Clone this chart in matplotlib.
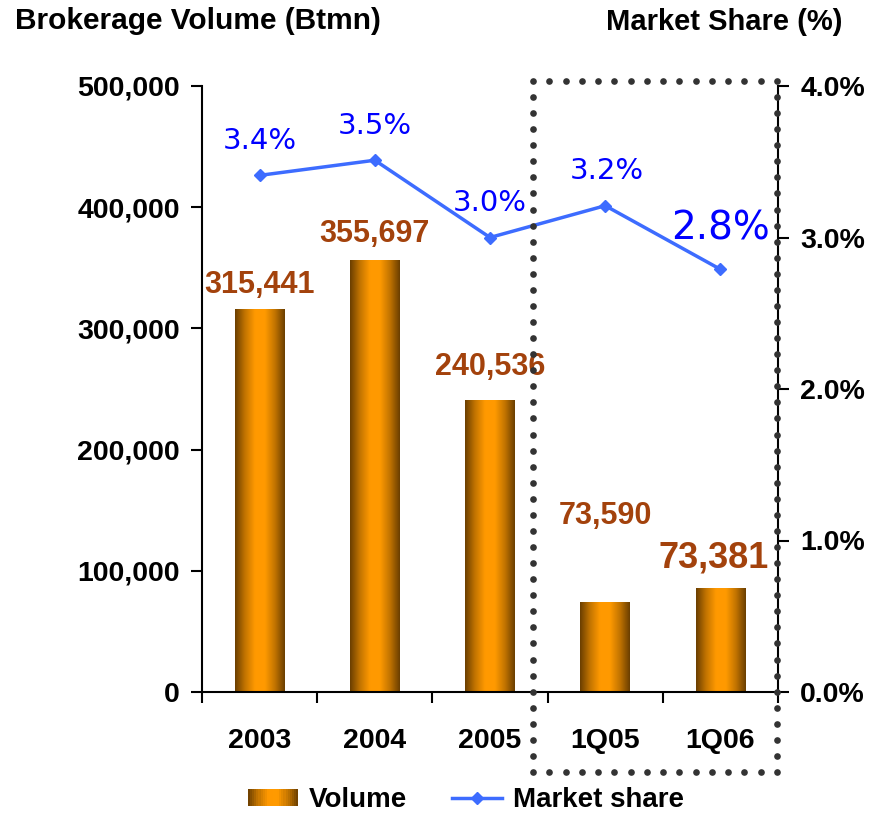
import numpy as np
import matplotlib
matplotlib.use("Agg")
import matplotlib.pyplot as plt
from matplotlib.colors import LinearSegmentedColormap
from matplotlib.patches import Rectangle
from matplotlib.lines import Line2D
from matplotlib.legend_handler import HandlerBase
from matplotlib.ticker import FuncFormatter

# data
periods = ["2003", "2004", "2005", "1Q05", "1Q06"]
volume = [315441, 355697, 240536, 73590, 85800]
volume_labels = ["315,441", "355,697", "240,536", "73,590", "73,381"]
share = [3.41, 3.51, 3.00, 3.21, 2.79]
share_labels = ["3.4%", "3.5%", "3.0%", "3.2%", "2.8%"]

# label styling (offsets in points from the mark to the label centre, font sizes)
vol_offsets = [(0, 18), (0, 19.5), (0, 24), (0, 62.5), (-5, 21.5)]
vol_sizes = [22, 22, 22, 22, 26]
share_offsets = [(0, 25), (0, 25), (0, 25), (1, 25), (0, 29.5)]
share_sizes = [21, 21, 21, 21, 28]

BOLD = "Liberation Sans"
BROWN = "#A3420C"
BLUE = "#0000FF"
LINE = "#3D6CFF"

bar_cmap = LinearSegmentedColormap.from_list(
    "barg", ["#6A3E00", "#C27400", "#FF9900", "#FF9A00", "#C27400", "#6A3E00"])


class GradientHandler(HandlerBase):
    def create_artists(self, legend, orig_handle, xdescent, ydescent,
                       width, height, fontsize, trans):
        n = 24
        out = []
        for i in range(n):
            r = Rectangle((-xdescent + width * i / n, -ydescent), width / n + 0.3, height,
                          facecolor=bar_cmap((i + 0.5) / n), edgecolor="none",
                          transform=trans)
            out.append(r)
        return out


W, H = 883, 815
fig = plt.figure(figsize=(W / 100, H / 100), dpi=100)
ax_left, ax_bot, ax_w, ax_h = 202, 692, 576, 606   # pixels
ax = fig.add_axes([ax_left / W, 1 - ax_bot / H, ax_w / W, ax_h / H])
ax2 = ax.twinx()

x = np.arange(len(periods))
bars = ax.bar(x, volume, width=0.43, facecolor="none", edgecolor="none")
grad = np.linspace(0, 1, 256).reshape(1, -1)
for b in bars:
    x0, w, h = b.get_x(), b.get_width(), b.get_height()
    ax.imshow(grad, cmap=bar_cmap, extent=(x0, x0 + w, 0, h), aspect="auto",
              interpolation="bilinear", zorder=2)

for i, b in enumerate(bars):
    ax.annotate(volume_labels[i], (b.get_x() + b.get_width() / 2, b.get_height()),
                xytext=vol_offsets[i], textcoords="offset points",
                ha="center", va="center", color=BROWN, fontsize=vol_sizes[i],
                fontweight="bold", family=BOLD)

ax.set_xlim(-0.5, len(periods) - 0.5)
ax.set_ylim(0, 500000)
ax.set_yticks(np.arange(0, 500001, 100000))
ax.yaxis.set_major_formatter(FuncFormatter(lambda v, p: f"{int(v):,}"))
ax.set_xticks(np.arange(-0.5, len(periods), 1.0))
ax.set_xticklabels([])
ax.set_xticks(x, minor=True)
ax.set_xticklabels(periods, minor=True)
ax.tick_params(axis="x", which="major", direction="out", length=8, width=1.5)
ax.tick_params(axis="x", which="minor", length=0, pad=26)
ax.tick_params(axis="y", direction="out", length=8, width=1.5, pad=8)
for lab in ax.get_xticklabels(minor=True) + ax.get_yticklabels():
    lab.set_fontsize(20.5)
    lab.set_fontweight("bold")
    lab.set_family(BOLD)
for s in ["top", "right"]:
    ax.spines[s].set_visible(False)
ax.spines["left"].set_linewidth(1.5)
ax.spines["bottom"].set_linewidth(1.5)

ax2.plot(x, share, color=LINE, lw=2.5, marker="D", markersize=6, zorder=4)
for i in range(len(periods)):
    ax2.annotate(share_labels[i], (x[i], share[i]), xytext=share_offsets[i],
                 textcoords="offset points", ha="center", va="center",
                 color=BLUE, fontsize=share_sizes[i], family="DejaVu Sans")
ax2.set_ylim(0, 4)
ax2.set_yticks(np.arange(0, 4.01, 1.0))
ax2.yaxis.set_major_formatter(FuncFormatter(lambda v, p: f"{v:.1f}%"))
ax2.tick_params(axis="y", direction="out", length=8, width=1.5, pad=8)
for lab in ax2.get_yticklabels():
    lab.set_fontsize(20.5)
    lab.set_fontweight("bold")
    lab.set_family(BOLD)
for s in ["top", "left", "bottom"]:
    ax2.spines[s].set_visible(False)
ax2.spines["right"].set_linewidth(1.5)

# dotted frame around the quarterly comparison, drawn as round dots (pixel coords)
fx0, fx1, fy0, fy1 = 533, 777, 81, 772
step = 16.0
pts = []
for (a, b) in [((fx0, fy0), (fx1, fy0)), ((fx1, fy0), (fx1, fy1)),
               ((fx1, fy1), (fx0, fy1)), ((fx0, fy1), (fx0, fy0))]:
    length = np.hypot(b[0] - a[0], b[1] - a[1])
    n = max(int(round(length / step)), 1)
    for t in np.arange(n) / n:
        pts.append((a[0] + (b[0] - a[0]) * t, a[1] + (b[1] - a[1]) * t))
pts = np.array(pts)
fig.add_artist(Line2D(pts[:, 0] / W, 1 - pts[:, 1] / H, transform=fig.transFigure,
                      linestyle="none", marker="o", markersize=4.8,
                      markerfacecolor="#333333", markeredgecolor="none", zorder=6))

fig.text(15 / W, 1 - 21 / H, "Brokerage Volume (Btmn)", ha="left", va="center",
         fontsize=21.5, fontweight="bold", family=BOLD)
fig.text(842 / W, 1 - 22 / H, "Market Share (%)", ha="right", va="center",
         fontsize=21, fontweight="bold", family=BOLD)

vol_handle = Rectangle((0, 0), 1, 1)
share_handle = Line2D([], [], color=LINE, lw=2.5, marker="D", markersize=6)
leg = fig.legend([vol_handle, share_handle], ["Volume", "Market share"],
                 handler_map={Rectangle: GradientHandler()},
                 loc="center", bbox_to_anchor=(466 / W, 1 - 800 / H), ncol=2,
                 frameon=False, prop={"family": BOLD, "weight": "bold", "size": 20},
                 handlelength=1.8, handleheight=0.55, columnspacing=1.6,
                 handletextpad=0.4, borderpad=0.0)

fig.savefig("out.png", dpi=100, facecolor="white")
